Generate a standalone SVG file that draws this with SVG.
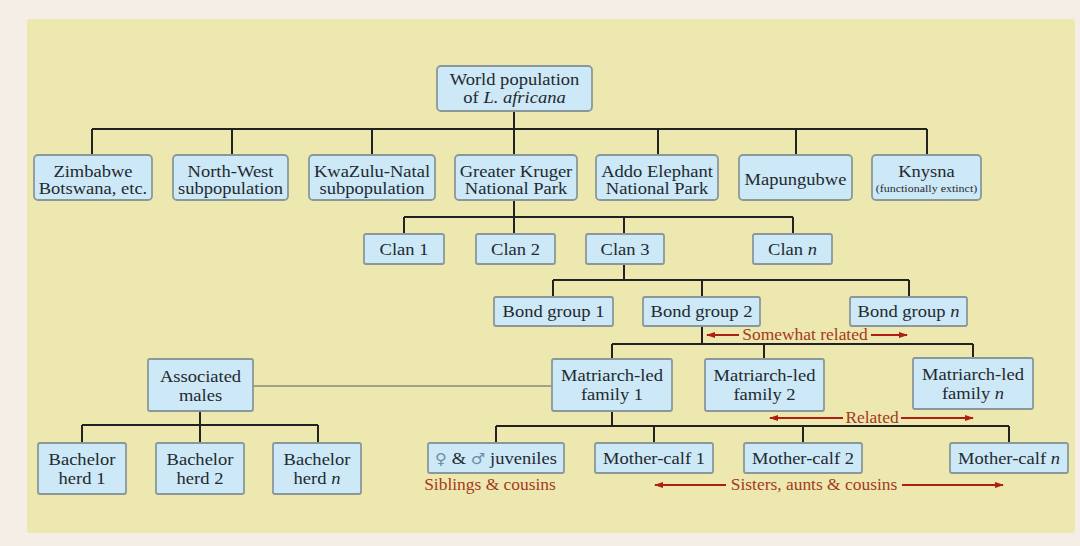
<svg xmlns="http://www.w3.org/2000/svg" width="1080" height="546" viewBox="0 0 1080 546">
<defs>
<style>
.bg{fill:#f5eee6}
.panel{fill:#ece8b0}
.node rect{fill:#cde8f6;stroke:#8b9899;stroke-width:1.8}
.t{font-family:"Liberation Serif","Times New Roman",serif;font-size:17px;fill:#1f2a30;text-anchor:middle}
.small{font-size:11px}
.red{font-family:"Liberation Serif","Times New Roman",serif;font-size:16px;fill:#a53a20;text-anchor:middle}
.conn path{fill:none;stroke:#222;stroke-width:2}
.conn path.gray{stroke:#8a8a7e;stroke-width:1.6}
.arr{fill:none;stroke:#b01e10;stroke-width:2}
.sym{font-family:"DejaVu Sans",sans-serif;fill:#6f8ea6;font-size:15px}
</style>
<marker id="ah" markerWidth="9" markerHeight="6" refX="8" refY="3" orient="auto" markerUnits="userSpaceOnUse">
<path d="M0,0 L9,3 L0,6 Z" fill="#b01e10"/>
</marker>
</defs>
<rect class="bg" x="0" y="0" width="1080" height="546"/>
<rect class="panel" x="27" y="19" width="1048" height="514" rx="3"/>

<g id="connectors" class="conn">
<path d="M514 111V129M92 129H927M92 129V155M232 129V155M372 129V155M514 129V155M658 129V155M796 129V155M927 129V155"/>
<path d="M514 200V217M404 217H793M404 217V234M514 217V234M624 217V234M793 217V234"/>
<path d="M624 264V280M553 280H909M553 280V297M702 280V297M909 280V297"/>
<path d="M702 326V344M612 344H973M612 344V359M764 344V359M973 344V359"/>
<path d="M612 411V426M496 426H1009M496 426V443M654 426V443M803 426V443M1009 426V443"/>
<path d="M200 411V425M82 425H318M82 425V443M200 425V443M318 425V443"/>
<path class="gray" d="M253 386H552"/>
</g>

<g id="relations">
<path class="arr" d="M739 335H707" marker-end="url(#ah)"/>
<path class="arr" d="M871 335H907" marker-end="url(#ah)"/>
<text class="red" transform="translate(805,340) scale(1.09,1)">Somewhat related</text>
<path class="arr" d="M843 418H770" marker-end="url(#ah)"/>
<path class="arr" d="M901 418H973" marker-end="url(#ah)"/>
<text class="red" transform="translate(872,423) scale(1.09,1)">Related</text>
<path class="arr" d="M726 485H655" marker-end="url(#ah)"/>
<path class="arr" d="M902 485H1003" marker-end="url(#ah)"/>
<text class="red" transform="translate(814,490) scale(1.09,1)">Sisters, aunts &amp; cousins</text>
<text class="red" transform="translate(490,490) scale(1.09,1)">Siblings &amp; cousins</text>
</g>

<g id="world" class="node"><rect x="437" y="66" width="155" height="45" rx="4"/>
<text class="t" transform="translate(514.5,85) scale(1.09,1)"><tspan x="0">World population</tspan><tspan x="0" dy="18">of <tspan font-style="italic">L. africana</tspan></tspan></text></g>

<g id="zimbabwe" class="node"><rect x="34" y="155" width="118" height="45" rx="4"/>
<text class="t" transform="translate(93,177) scale(1.09,1)"><tspan x="0">Zimbabwe</tspan><tspan x="0" dy="17">Botswana, etc.</tspan></text></g>
<g id="northwest" class="node"><rect x="173" y="155" width="115" height="45" rx="4"/>
<text class="t" transform="translate(230.5,177) scale(1.09,1)"><tspan x="0">North-West</tspan><tspan x="0" dy="17">subpopulation</tspan></text></g>
<g id="kwazulu" class="node"><rect x="309" y="155" width="126" height="45" rx="4"/>
<text class="t" transform="translate(372,177) scale(1.09,1)"><tspan x="0">KwaZulu-Natal</tspan><tspan x="0" dy="17">subpopulation</tspan></text></g>
<g id="kruger" class="node"><rect x="455" y="155" width="122" height="45" rx="4"/>
<text class="t" transform="translate(516,177) scale(1.09,1)"><tspan x="0">Greater Kruger</tspan><tspan x="0" dy="17">National Park</tspan></text></g>
<g id="addo" class="node"><rect x="596" y="155" width="122" height="45" rx="4"/>
<text class="t" transform="translate(657,177) scale(1.09,1)"><tspan x="0">Addo Elephant</tspan><tspan x="0" dy="17">National Park</tspan></text></g>
<g id="mapungubwe" class="node"><rect x="739" y="155" width="113" height="45" rx="4"/>
<text class="t" transform="translate(795.5,185) scale(1.09,1)">Mapungubwe</text></g>
<g id="knysna" class="node"><rect x="872" y="155" width="109" height="45" rx="4"/>
<text class="t" transform="translate(926.5,177) scale(1.09,1)"><tspan x="0">Knysna</tspan><tspan x="0" dy="15" class="small">(functionally extinct)</tspan></text></g>

<g id="clan1" class="node"><rect x="364" y="234" width="80" height="30" rx="2"/>
<text class="t" transform="translate(404,255) scale(1.09,1)">Clan 1</text></g>
<g id="clan2" class="node"><rect x="476" y="234" width="79" height="30" rx="2"/>
<text class="t" transform="translate(515.5,255) scale(1.09,1)">Clan 2</text></g>
<g id="clan3" class="node"><rect x="586" y="234" width="78" height="30" rx="2"/>
<text class="t" transform="translate(625,255) scale(1.09,1)">Clan 3</text></g>
<g id="clann" class="node"><rect x="753" y="234" width="79" height="30" rx="2"/>
<text class="t" transform="translate(792.5,255) scale(1.09,1)">Clan <tspan font-style="italic">n</tspan></text></g>

<g id="bond1" class="node"><rect x="494" y="297" width="119" height="29" rx="2"/>
<text class="t" transform="translate(553.5,317) scale(1.09,1)">Bond group 1</text></g>
<g id="bond2" class="node"><rect x="643" y="297" width="117" height="29" rx="2"/>
<text class="t" transform="translate(701.5,317) scale(1.09,1)">Bond group 2</text></g>
<g id="bondn" class="node"><rect x="850" y="297" width="117" height="29" rx="2"/>
<text class="t" transform="translate(908.5,317) scale(1.09,1)">Bond group <tspan font-style="italic">n</tspan></text></g>

<g id="males" class="node"><rect x="148" y="359" width="105" height="52" rx="2"/>
<text class="t" transform="translate(200.5,382) scale(1.09,1)"><tspan x="0">Associated</tspan><tspan x="0" dy="19">males</tspan></text></g>
<g id="family1" class="node"><rect x="552" y="359" width="120" height="52" rx="2"/>
<text class="t" transform="translate(612,381) scale(1.09,1)"><tspan x="0">Matriarch-led</tspan><tspan x="0" dy="19">family 1</tspan></text></g>
<g id="family2" class="node"><rect x="705" y="359" width="119" height="52" rx="2"/>
<text class="t" transform="translate(764.5,381) scale(1.09,1)"><tspan x="0">Matriarch-led</tspan><tspan x="0" dy="19">family 2</tspan></text></g>
<g id="familyn" class="node"><rect x="913" y="358" width="120" height="51" rx="2"/>
<text class="t" transform="translate(973,380) scale(1.09,1)"><tspan x="0">Matriarch-led</tspan><tspan x="0" dy="19">family <tspan font-style="italic">n</tspan></tspan></text></g>

<g id="bachelor1" class="node"><rect x="38" y="443" width="88" height="51" rx="2"/>
<text class="t" transform="translate(82,465) scale(1.09,1)"><tspan x="0">Bachelor</tspan><tspan x="0" dy="19">herd 1</tspan></text></g>
<g id="bachelor2" class="node"><rect x="156" y="443" width="88" height="51" rx="2"/>
<text class="t" transform="translate(200,465) scale(1.09,1)"><tspan x="0">Bachelor</tspan><tspan x="0" dy="19">herd 2</tspan></text></g>
<g id="bachelorn" class="node"><rect x="273" y="443" width="88" height="51" rx="2"/>
<text class="t" transform="translate(317,465) scale(1.09,1)"><tspan x="0">Bachelor</tspan><tspan x="0" dy="19">herd <tspan font-style="italic">n</tspan></tspan></text></g>

<g id="juveniles" class="node"><rect x="428" y="443" width="136" height="30" rx="2"/>
<text class="t" transform="translate(496,464) scale(1.09,1)"><tspan class="sym">♀</tspan> &amp; <tspan class="sym">♂</tspan> juveniles</text></g>
<g id="mothercalf1" class="node"><rect x="595" y="443" width="118" height="30" rx="2"/>
<text class="t" transform="translate(654,464) scale(1.09,1)">Mother-calf 1</text></g>
<g id="mothercalf2" class="node"><rect x="744" y="443" width="118" height="30" rx="2"/>
<text class="t" transform="translate(803,464) scale(1.09,1)">Mother-calf 2</text></g>
<g id="mothercalfn" class="node"><rect x="950" y="443" width="118" height="30" rx="2"/>
<text class="t" transform="translate(1009,464) scale(1.09,1)">Mother-calf <tspan font-style="italic">n</tspan></text></g>
</svg>
